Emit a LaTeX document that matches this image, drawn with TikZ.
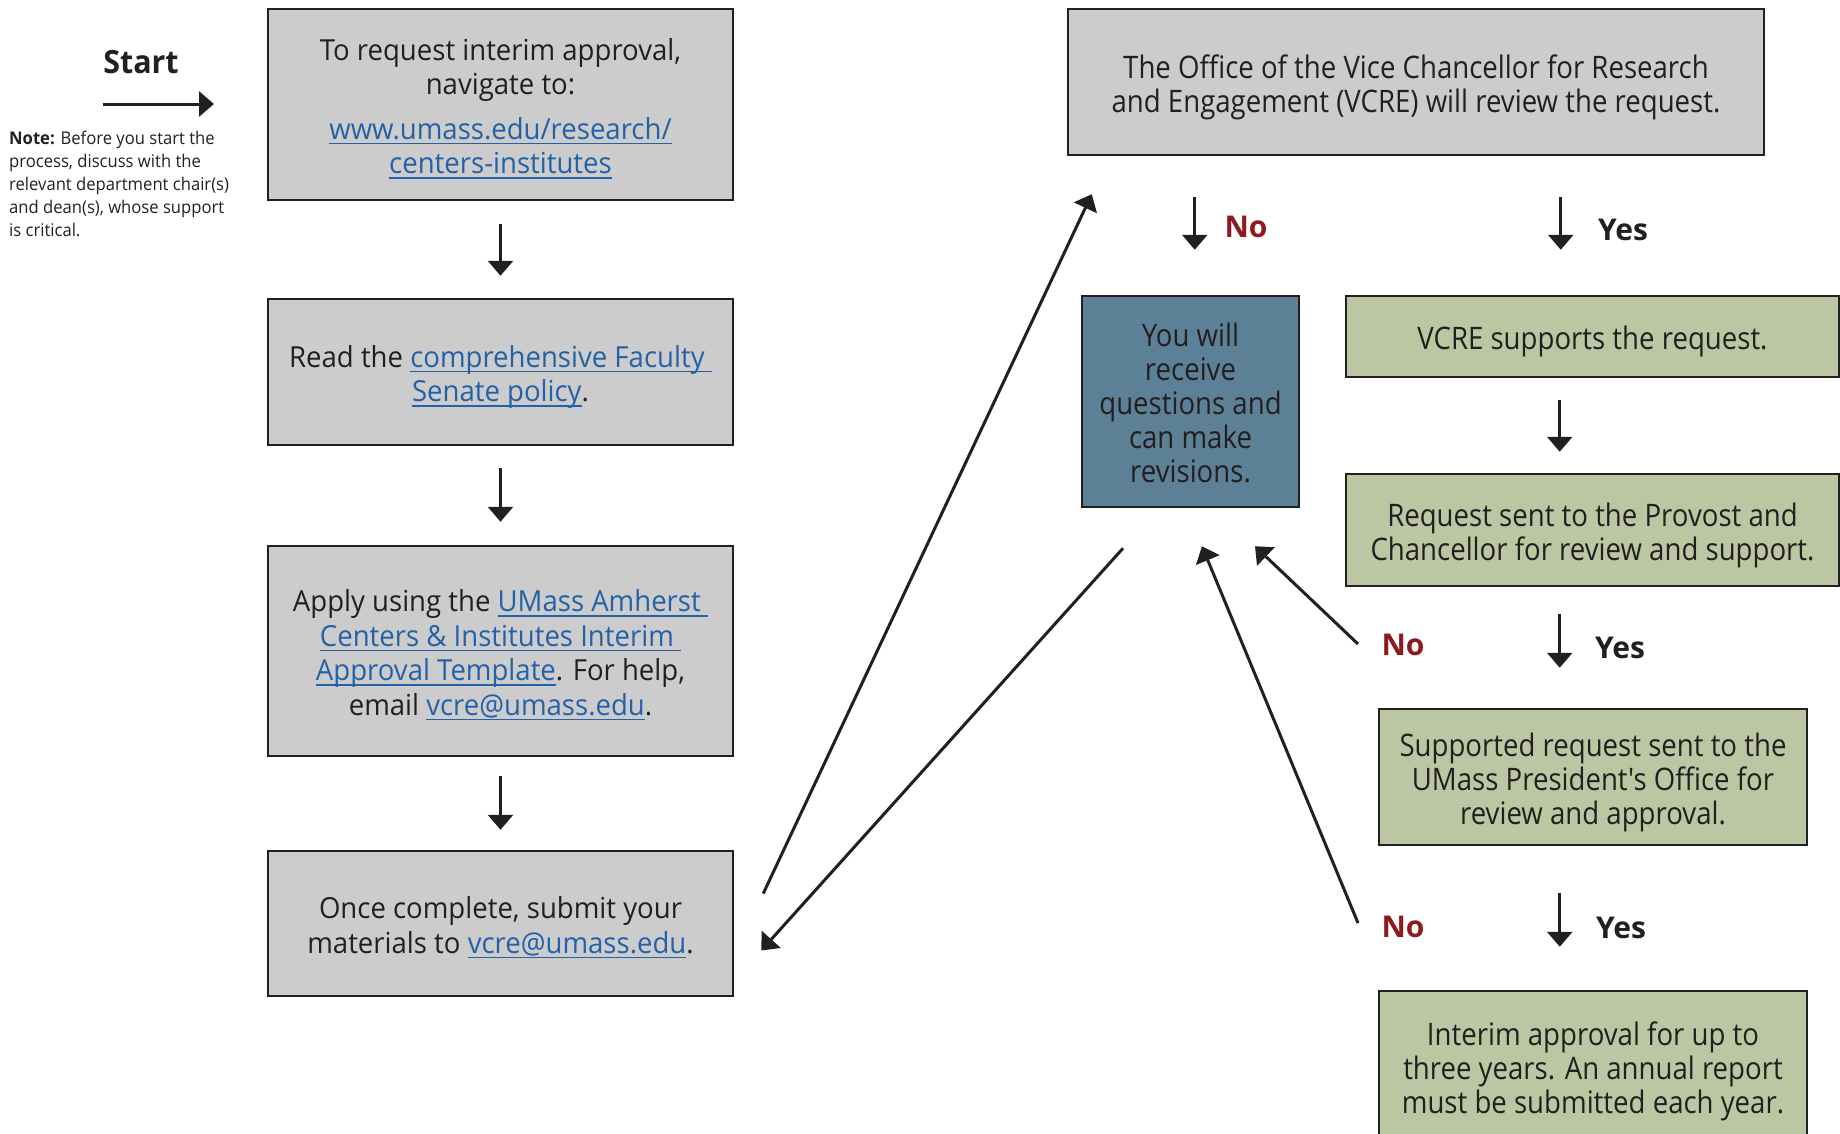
\documentclass[tikz,border=0pt]{standalone}
\usepackage{fontspec}
\setmainfont{Open Sans}[FakeStretch=0.95]
\newfontfamily\condfont{Open Sans}[FakeStretch=0.89]
\newfontfamily\labfont{Open Sans}
\usetikzlibrary{arrows.meta,calc}
\definecolor{dk}{HTML}{231F20}
\definecolor{boxgray}{HTML}{CCCCCC}
\definecolor{boxgreen}{HTML}{BBC6A3}
\definecolor{boxblue}{HTML}{5C8096}
\definecolor{linkc}{HTML}{2361A8}
\definecolor{noRed}{HTML}{8E1A1F}
\newcommand\lnk[1]{{\color{linkc}\setbox0\hbox{#1}\rlap{\rule[-5pt]{\wd0}{1.5pt}}\box0}}
\newcommand\tl{\rule{0pt}{1.1em}}
\newcommand\bl{\rule[-0.25em]{0pt}{0.25em}}
\tikzset{
  box/.style={draw=dk, line width=2.5pt, fill=boxgray, inner sep=0pt, align=center, text=dk},
  lbox/.style={box, minimum width=465pt, font=\fontsize{29}{34.5}\selectfont},
  rbox/.style={box, font=\condfont\fontsize{31}{34}\selectfont},
  gbox/.style={rbox, fill=boxgreen},
  bbox/.style={rbox, fill=boxblue},
  arr/.style={draw=dk, line width=3pt, -{Triangle[width=25pt,length=15pt]}},
  nolab/.style={text=noRed, inner sep=0pt, font=\labfont\bfseries\fontsize{30}{36}\selectfont},
  yeslab/.style={text=dk, inner sep=0pt, font=\labfont\bfseries\fontsize{30}{36}\selectfont},
}
\begin{document}
\begin{tikzpicture}[x=1pt,y=-1pt]
\useasboundingbox (0,0) rectangle (1840,1133);
% start
\node[text=dk, inner sep=0pt, font=\bfseries\fontsize{32}{38}\selectfont] (start) at (141,62) {Start};
\coordinate (startend) at (214,104);
\draw[arr] (start.west |- startend) -- (startend);
\node[text=dk, inner sep=0pt, anchor=north west, align=left, font=\fontsize{17.5}{23}\selectfont] (note) at (9,131)
 {\textbf{Note:} Before you start the\\process, discuss with the\\relevant department chair(s)\\and dean(s), whose support\\is critical.};
% left column
\node[lbox, minimum height=191pt] (b1) at (500.5,104.5)
 {\tl To request interim approval,\\navigate to:\\[10pt]\lnk{www.umass.edu/research/}\\\lnk{centers-institutes}\bl};
\node[lbox, minimum height=146pt] (b2) at (500.5,372)
 {\tl Read the \lnk{comprehensive Faculty~}\\\lnk{Senate policy}.\bl};
\node[lbox, minimum height=210pt] (b3) at (500.5,651)
 {\tl Apply using the \lnk{UMass Amherst~}\\\lnk{Centers \& Institutes Interim~}\\\lnk{Approval Template}. For help,\\email \lnk{vcre@umass.edu}.\bl};
\node[lbox, minimum height=145pt] (b4) at (500.5,923.5)
 {\tl Once complete, submit your\\materials to \lnk{vcre@umass.edu}.\bl};
\draw[arr, shorten <=23pt, shorten >=22pt] (b1.south) -- (b2.north);
\draw[arr, shorten <=22pt, shorten >=23pt] (b2.south) -- (b3.north);
\draw[arr, shorten <=19pt, shorten >=20pt] (b3.south) -- (b4.north);
% right side
\node[rbox, minimum width=696pt, minimum height=146pt] (top) at (1416,82)
 {\tl The Office of the Vice Chancellor for Research\\and Engagement (VCRE) will review the request.\bl};
\node[bbox, minimum width=217pt, minimum height=211pt] (blue) at (1190.5,401.5)
 {\tl You will\\receive\\questions and\\can make\\revisions.\bl};
\node[gbox, minimum width=493pt, minimum height=81pt] (g1) at (1592.5,336.5)
 {\tl VCRE supports the request.\bl};
\node[gbox, minimum width=493pt, minimum height=112pt] (g2) at (1592.5,530)
 {\tl Request sent to the Provost and\\Chancellor for review and support.\bl};
\node[gbox, minimum width=428pt, minimum height=136pt] (g3) at (1593,777)
 {\tl Supported request sent to the\\UMass President's Office for\\review and approval.\bl};
\node[gbox, minimum width=428pt, minimum height=150pt] (g4) at (1593,1066)
 {\tl Interim approval for up to\\three years. An annual report\\must be submitted each year.\bl};
% labels
\node[nolab] (no1) at (1246,227) {No};
\node[yeslab] (yes1) at (1623,230) {Yes};
\node[nolab] (no2) at (1403,645) {No};
\node[yeslab] (yes2) at (1620,648) {Yes};
\node[nolab] (no3) at (1403,927) {No};
\node[yeslab] (yes3) at (1621,928) {Yes};
% vertical arrows right
\draw[arr] ($(top.south west)+(128,41)$) -- ($(blue.north west)+(114,-45)$);
\draw[arr] ($(top.south west)+(494,41)$) -- ($(g1.north west)+(216,-45)$);
\draw[arr] ($(g1.south west)+(215,22)$) -- ($(g2.north west)+(215,-21)$);
\draw[arr] ($(g2.south west)+(215,27)$) -- ($(g3.north west)+(182,-40)$);
\draw[arr] ($(g3.south west)+(182,47)$) -- ($(g4.north west)+(182,-43)$);
% diagonal arrows
\draw[arr] ($(b4.east)+(29,-30)$) -- ($(top.south west)+(25,38)$);
\draw[arr] ($(blue.south)+(-67.5,40)$) -- ($(b4.east)+(27,27)$);
\draw[arr] ($(no2.center)+(-45,-1)$) -- ($(blue.south)+(64.5,38)$);
\draw[arr] ($(no3.center)+(-45,-4)$) -- ($(blue.south)+(11.5,38)$);
\end{tikzpicture}
\end{document}
